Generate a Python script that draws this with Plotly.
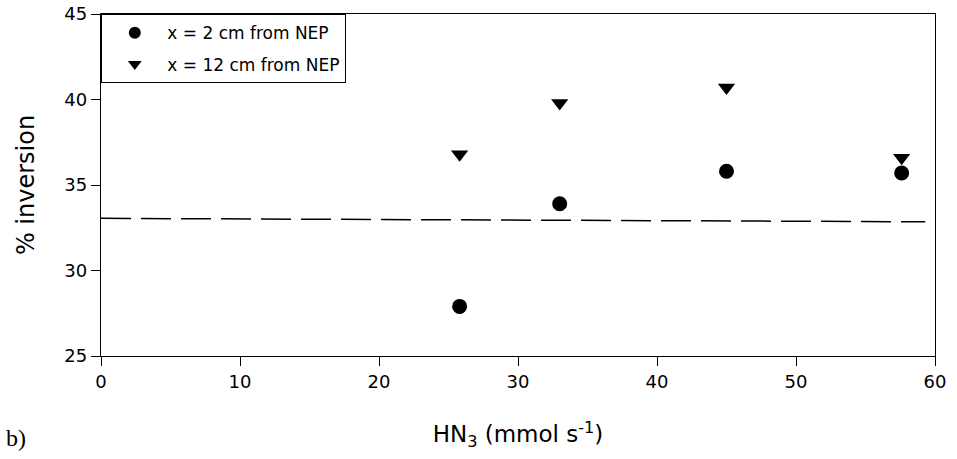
import plotly.graph_objects as go

hn3 = [25.8, 33.0, 45.0, 57.6]
inv_2cm = [27.9, 33.9, 35.8, 35.7]
inv_12cm = [36.8, 39.8, 40.7, 36.6]
ref_x = [0, 59.3]
ref_y = [33.05, 32.85]

SANS = "DejaVu Sans, Liberation Sans, Arial"

fig = go.Figure()
fig.add_trace(go.Scatter(x=ref_x, y=ref_y, mode="lines", showlegend=False,
                         line=dict(color="black", width=1.5, dash="30px,10px")))
fig.add_trace(go.Scatter(x=hn3, y=inv_2cm, mode="markers", name="x = 2 cm from NEP",
                         legendgroup="a",
                         marker=dict(symbol="circle", size=15, color="black")))
fig.add_trace(go.Scatter(x=hn3, y=inv_12cm, mode="markers", name="x = 12 cm from NEP",
                         legendgroup="b",
                         marker=dict(symbol="triangle-down", size=15, color="black")))

axis_common = dict(showline=True, linecolor="black", linewidth=1.3, mirror=True,
                   ticks="outside", ticklen=9, tickcolor="black", tickwidth=1.3,
                   showgrid=False, zeroline=False, automargin=False,
                   tickfont=dict(family=SANS, size=18, color="black"))

fig.update_layout(
    width=957, height=459,
    margin=dict(l=101, r=22, t=14, b=103),
    paper_bgcolor="white", plot_bgcolor="white",
    font=dict(family=SANS, color="black"),
    xaxis=dict(range=[0, 60], tickvals=[0, 10, 20, 30, 40, 50, 60],
               title=dict(text="HN<sub>3</sub> (mmol s<sup>-1</sup>)", font=dict(size=23), standoff=35),
               **axis_common),
    yaxis=dict(range=[25, 45], tickvals=[25, 30, 35, 40, 45],
               title=dict(text="% inversion", font=dict(size=24), standoff=22),
               **axis_common),
    legend=dict(x=0, y=1, xanchor="left", yanchor="top", bordercolor="black", borderwidth=1.3,
                bgcolor="white", font=dict(size=17), itemsizing="constant", itemwidth=55,
                traceorder="grouped", tracegroupgap=6, entrywidth=263, entrywidthmode="pixels"),
)
fig.add_annotation(text="b)", xref="paper", yref="paper", x=-0.116, y=-0.24,
                   xanchor="left", yanchor="middle", showarrow=False,
                   font=dict(family="Liberation Serif, Times New Roman", size=24, color="black"))

fig.write_html("out.html", config={"displayModeBar": False},
               post_script="document.body.style.margin='0';document.body.style.overflow='hidden';")
